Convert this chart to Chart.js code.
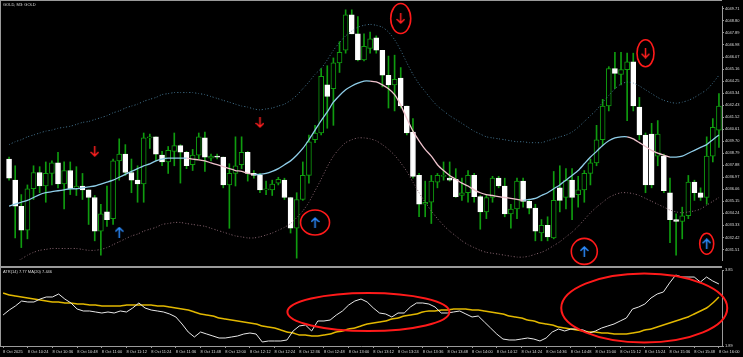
<!DOCTYPE html>
<html>
<head>
<meta charset="utf-8">
<script src="https://cdn.jsdelivr.net/npm/chart.js@4.4.1/dist/chart.umd.min.js"></script>
<style>
html,body{margin:0;padding:0;background:#000;}
#wrap{position:relative;width:743px;height:357px;background:#000;overflow:hidden;}
#main{position:absolute;left:0;top:0;width:743px;height:266px;}
#sub{position:absolute;left:0;top:266px;width:743px;height:91px;}
</style>
</head>
<body>
<div id="wrap">
<canvas id="main" width="743" height="266"></canvas>
<canvas id="sub" width="743" height="91"></canvas>
</div>
<script>
const opens=[4038.35,4036.75,4034.78,4032.96,4036.10,4037.33,4036.31,4037.26,4038.06,4036.46,
4037.48,4036.10,4036.31,4036.02,4035.44,4032.89,4034.35,4033.84,4038.21,4038.72,
4037.33,4036.75,4036.46,4039.95,4040.03,4038.64,4038.13,4038.93,4039.37,4038.86,
4037.92,4038.64,4039.95,4038.42,4038.57,4038.50,4036.39,4037.26,4037.92,4038.86,
4037.26,4037.11,4036.02,4036.02,4036.53,4036.75,4035.44,4033.11,4035.29,4037.11,
4039.81,4040.32,4043.96,4043.67,4045.63,4046.58,4049.27,4047.82,4045.85,4046.72,
4047.52,4046.58,4044.69,4043.96,4044.47,4042.36,4040.39,4037.11,4034.93,4035.08,
4036.60,4037.04,4036.90,4036.82,4035.59,4035.80,4037.11,4035.51,4034.35,4035.44,
4036.90,4036.31,4034.20,4034.57,4036.68,4035.15,4034.64,4032.75,4033.33,4032.38,
4036.17,4035.44,4036.75,4035.66,4036.02,4037.26,4038.06,4039.81,4042.36,4045.20,
4044.76,4045.12,4045.70,4042.28,4040.17,4040.24,4038.57,4038.57,4035.80,4033.77,
4033.62,4034.06,4036.60,4035.80,4035.44,4038.57,4040.54];

const highs=[4038.50,4037.84,4035.66,4036.39,4037.84,4037.77,4038.13,4038.21,4038.86,4038.13,
4038.13,4037.77,4037.26,4036.02,4035.59,4034.93,4036.31,4038.35,4039.88,4039.44,
4038.35,4037.84,4040.32,4040.24,4040.03,4038.93,4039.30,4040.32,4039.44,4038.93,
4039.08,4040.32,4040.39,4038.72,4038.72,4038.50,4037.99,4040.03,4040.03,4038.93,
4037.48,4037.26,4036.68,4036.75,4036.97,4036.90,4035.44,4035.80,4038.13,4040.17,
4040.90,4045.20,4045.41,4046.00,4047.23,4049.64,4049.64,4049.13,4047.82,4047.96,
4047.67,4046.58,4046.14,4046.21,4045.27,4042.36,4041.41,4037.26,4036.68,4037.11,
4037.26,4038.13,4038.13,4037.62,4036.90,4037.48,4037.26,4035.59,4035.66,4037.04,
4037.04,4036.90,4034.93,4036.90,4036.90,4035.29,4034.93,4033.77,4033.98,4037.41,
4037.84,4037.62,4037.62,4037.04,4037.48,4038.35,4040.90,4042.87,4045.34,4046.43,
4046.43,4046.36,4046.36,4043.01,4040.32,4041.05,4041.26,4038.72,4036.90,4034.20,
4034.71,4037.11,4036.75,4036.17,4040.03,4041.41,4043.30];

const lows=[4036.75,4032.38,4031.65,4032.31,4035.29,4035.80,4035.08,4036.39,4036.17,4034.57,
4035.66,4035.59,4035.29,4033.40,4032.16,4031.07,4033.26,4033.40,4036.75,4037.11,
4035.80,4035.08,4035.08,4039.15,4038.21,4037.84,4037.26,4037.84,4036.53,4037.62,
4037.48,4038.35,4037.41,4038.21,4038.35,4036.17,4033.11,4036.31,4037.62,4036.68,
4036.90,4035.80,4035.66,4035.59,4036.39,4035.29,4032.75,4030.85,4035.22,4036.53,
4039.59,4040.17,4040.68,4040.90,4044.90,4046.36,4047.82,4045.78,4045.78,4046.36,
4046.36,4043.81,4042.21,4041.99,4042.21,4040.17,4036.90,4033.98,4033.98,4033.47,
4036.17,4036.75,4036.68,4035.44,4035.22,4035.08,4035.08,4033.04,4033.84,4035.08,
4036.17,4033.98,4033.11,4033.84,4034.71,4034.20,4032.16,4032.16,4032.16,4032.31,
4034.35,4034.57,4033.77,4034.71,4035.08,4036.39,4037.84,4039.44,4041.99,4043.67,
4043.96,4041.26,4041.99,4039.81,4035.80,4036.17,4037.84,4035.80,4032.02,4031.07,
4032.31,4033.84,4035.22,4035.22,4034.93,4038.13,4039.23];

const closes=[4036.90,4034.78,4032.96,4036.10,4037.33,4036.31,4037.26,4038.06,4036.46,4037.48,
4036.10,4036.31,4036.02,4035.44,4032.89,4034.20,4033.77,4038.21,4038.72,4037.33,
4036.75,4036.46,4039.95,4040.03,4038.72,4038.13,4039.01,4039.37,4038.86,4037.84,
4038.64,4040.03,4038.50,4038.57,4038.50,4036.39,4037.26,4037.84,4038.86,4037.26,
4037.11,4036.02,4036.10,4036.46,4036.82,4035.44,4033.11,4035.29,4037.11,4039.66,
4040.32,4044.61,4043.08,4045.63,4046.43,4049.27,4047.82,4045.85,4046.87,4047.45,
4046.58,4044.69,4043.96,4044.39,4042.36,4040.32,4037.04,4034.93,4035.08,4036.68,
4037.11,4037.11,4036.75,4035.51,4035.80,4037.11,4035.51,4034.35,4035.44,4036.90,
4036.31,4034.20,4034.57,4036.68,4035.15,4034.64,4032.89,4033.33,4032.46,4035.22,
4035.22,4036.75,4035.44,4036.02,4037.26,4038.06,4039.81,4042.36,4045.20,4044.83,
4045.12,4045.70,4042.36,4040.17,4036.39,4036.39,4040.24,4035.95,4033.77,4033.62,
4034.06,4036.60,4035.80,4035.44,4038.57,4040.75,4042.36];

const maMid=[4034.78,4034.93,4035.08,4035.22,4035.44,4035.66,4035.80,4035.88,4035.95,4036.02,
4036.10,4036.10,4036.17,4036.24,4036.31,4036.46,4036.60,4036.75,4036.97,4037.19,
4037.41,4037.62,4037.84,4037.99,4038.21,4038.35,4038.42,4038.42,4038.42,4038.42,
4038.35,4038.28,4038.21,4038.06,4037.92,4037.77,4037.62,4037.48,4037.41,4037.26,
4037.19,4037.19,4037.26,4037.41,4037.62,4037.92,4038.21,4038.64,4039.15,4039.81,
4040.54,4041.26,4041.92,4042.65,4043.16,4043.59,4043.88,4044.10,4044.25,4044.25,
4044.18,4043.96,4043.67,4043.23,4042.43,4041.41,4040.46,4039.73,4039.08,4038.57,
4037.92,4037.48,4037.11,4036.82,4036.53,4036.31,4036.02,4035.80,4035.66,4035.59,
4035.51,4035.44,4035.37,4035.29,4035.22,4035.29,4035.37,4035.59,4035.80,4036.10,
4036.39,4036.75,4037.11,4037.48,4037.99,4038.50,4038.93,4039.37,4039.73,4039.95,
4040.03,4040.03,4039.88,4039.59,4039.30,4039.01,4038.79,4038.64,4038.50,4038.50,
4038.57,4038.79,4039.01,4039.23,4039.44,4039.81,4040.17];

const bandUp=[4039.44,4039.66,4039.81,4040.03,4040.17,4040.32,4040.46,4040.54,4040.68,4040.75,
4040.83,4040.97,4041.12,4041.19,4041.34,4041.48,4041.63,4041.85,4041.99,4042.21,
4042.36,4042.50,4042.72,4042.87,4043.01,4043.23,4043.30,4043.38,4043.38,4043.38,
4043.38,4043.30,4043.23,4043.08,4042.94,4042.79,4042.65,4042.50,4042.36,4042.28,
4042.14,4042.07,4042.14,4042.21,4042.36,4042.50,4042.79,4043.16,4043.67,4044.18,
4044.76,4045.20,4045.85,4046.58,4047.16,4047.67,4048.03,4048.33,4048.47,4048.54,
4048.47,4048.33,4047.96,4047.38,4046.58,4045.63,4044.76,4044.03,4043.45,4042.87,
4042.36,4041.99,4041.63,4041.34,4041.05,4040.75,4040.46,4040.24,4040.03,4039.95,
4039.88,4039.81,4039.73,4039.66,4039.66,4039.59,4039.59,4039.59,4039.73,4039.88,
4040.03,4040.17,4040.39,4040.75,4041.19,4041.63,4042.07,4042.65,4043.16,4043.67,
4044.03,4044.18,4044.10,4043.88,4043.59,4043.30,4043.01,4042.79,4042.65,4042.57,
4042.65,4042.79,4043.01,4043.30,4043.59,4044.10,4044.69];

const bandLow=[4030.20,4030.49,4030.78,4031.07,4031.29,4031.44,4031.51,4031.58,4031.58,4031.58,
4031.58,4031.58,4031.51,4031.44,4031.44,4031.51,4031.65,4031.87,4032.09,4032.31,
4032.53,4032.67,4032.89,4033.04,4033.18,4033.40,4033.47,4033.55,4033.55,4033.47,
4033.40,4033.33,4033.26,4033.11,4032.96,4032.82,4032.67,4032.53,4032.46,4032.38,
4032.38,4032.46,4032.60,4032.75,4032.96,4033.18,4033.47,4033.91,4034.42,4035.08,
4035.95,4036.82,4037.77,4038.57,4039.15,4039.59,4039.81,4039.95,4039.95,4039.88,
4039.73,4039.44,4039.08,4038.64,4038.06,4037.41,4036.60,4035.80,4035.08,4034.42,
4033.84,4033.33,4032.89,4032.53,4032.16,4031.87,4031.65,4031.44,4031.29,4031.22,
4031.15,4031.07,4031.00,4030.93,4030.93,4031.00,4031.15,4031.29,4031.51,4031.80,
4032.09,4032.46,4032.82,4033.26,4033.77,4034.28,4034.71,4035.08,4035.44,4035.66,
4035.80,4035.80,4035.73,4035.59,4035.37,4035.15,4034.93,4034.71,4034.49,4034.35,
4034.28,4034.35,4034.42,4034.57,4034.86,4035.15,4035.44];

const atr=[2.689,2.818,2.922,3.050,3.025,3.025,3.102,3.154,3.154,3.231,
3.102,2.999,2.844,2.793,2.793,2.767,2.741,2.767,2.741,2.793,
2.767,2.870,2.999,2.870,2.818,2.793,2.767,2.715,2.638,2.457,
2.251,2.122,2.251,2.199,2.148,2.096,2.096,2.122,2.148,2.199,
2.225,2.199,1.993,2.019,2.019,2.019,2.045,2.277,2.406,2.432,
2.277,2.535,2.535,2.560,2.689,2.793,2.947,3.050,3.102,3.025,
2.870,2.741,2.715,2.638,2.741,2.741,2.896,2.999,2.999,2.973,
2.896,2.741,2.741,2.767,2.793,2.715,2.638,2.664,2.509,2.354,
2.199,2.070,2.045,2.045,2.070,2.096,2.070,2.019,2.096,2.251,
2.328,2.277,2.328,2.328,2.303,2.225,2.277,2.354,2.406,2.457,
2.535,2.612,2.844,2.896,2.973,3.128,3.231,3.283,3.515,3.721,
3.669,3.669,3.669,3.540,3.669,3.566,3.489];

const atrMa=[3.257,3.205,3.179,3.154,3.128,3.102,3.076,3.050,3.025,3.025,
2.999,2.999,2.973,2.973,2.947,2.947,2.922,2.922,2.922,2.922,
2.947,2.947,2.947,2.947,2.947,2.922,2.922,2.896,2.870,2.844,
2.818,2.767,2.715,2.689,2.664,2.612,2.586,2.560,2.535,2.509,
2.483,2.457,2.406,2.380,2.354,2.303,2.251,2.225,2.174,2.174,
2.148,2.148,2.174,2.199,2.251,2.277,2.328,2.354,2.406,2.457,
2.483,2.509,2.535,2.586,2.612,2.664,2.689,2.715,2.767,2.793,
2.793,2.818,2.818,2.844,2.844,2.844,2.818,2.818,2.793,2.767,
2.741,2.715,2.664,2.638,2.612,2.560,2.535,2.483,2.457,2.432,
2.380,2.354,2.328,2.303,2.277,2.251,2.251,2.225,2.225,2.199,
2.199,2.199,2.225,2.251,2.303,2.328,2.380,2.432,2.483,2.535,
2.586,2.638,2.715,2.793,2.870,2.999,3.154];

const downIdx=[14,41,64,104];
const downVal=[4038.93,4041.12,4048.98,4046.36];
const upIdx=[18,50,94,114];
const upVal=[4032.82,4033.55,4031.36,4031.94];

const priceTicks=[4049.71,4048.80,4047.89,4046.98,4046.07,4045.16,4044.25,4043.34,4042.43,4041.52,
4040.61,4039.70,4038.79,4037.88,4036.97,4036.06,4035.15,4034.24,4033.33,4032.42,4031.51];
const subTicks=[3.85,1.89];

const timeLabels=["8 Oct 2025","8 Oct 10:24","8 Oct 10:36","8 Oct 10:48","8 Oct 11:00","8 Oct 11:12",
"8 Oct 11:24","8 Oct 11:36","8 Oct 11:48","8 Oct 12:00","8 Oct 12:12","8 Oct 12:24","8 Oct 12:36",
"8 Oct 12:48","8 Oct 13:00","8 Oct 13:12","8 Oct 13:24","8 Oct 13:36","8 Oct 13:48","8 Oct 14:00",
"8 Oct 14:12","8 Oct 14:24","8 Oct 14:36","8 Oct 14:48","8 Oct 15:00","8 Oct 15:12","8 Oct 15:24",
"8 Oct 15:36","8 Oct 15:48","8 Oct 16:00"];

// circled signals and the two hand drawn ellipses in the ATR window
const circledDown=[{i:64,rx:10,ry:15},{i:104,rx:8.5,ry:13.5}];
const circledUp=[{i:50,rx:14.5,ry:12.5},{i:94,rx:13,ry:13},{i:114,rx:7,ry:10.5}];
const subEllipses=[{i:59.2,v:2.767,rx:81,ry:19},{i:103.9,v:2.870,rx:83,ry:34.5}];

const GREEN="#0f9c0f";
const BLUE_MA="#8fcde8";
const PINK_MA="#efc2cc";
const AXIS="#9a9a9a";
const TXT="#dcdcdc";
const FONT="'Liberation Sans', Arial, sans-serif";

const N=opens.length;
const candleTimes=[];
for(let i=0;i<N;i++){
const m=10*60+12+3*i;
candleTimes.push(String(Math.floor(m/60)).padStart(2,"0")+":"+String(m%60).padStart(2,"0"));
}

function makeArrow(color,up){
const c=document.createElement("canvas");
c.width=9;c.height=11;
const g=c.getContext("2d");
g.strokeStyle=color;g.lineWidth=1.5;g.lineCap="round";
g.beginPath();
if(up){
g.moveTo(4.5,10.5);g.lineTo(4.5,1);
g.moveTo(1,4.5);g.lineTo(4.5,1);g.lineTo(8,4.5);
}else{
g.moveTo(4.5,0.5);g.lineTo(4.5,10);
g.moveTo(1,6.5);g.lineTo(4.5,10);g.lineTo(8,6.5);
}
g.stroke();
return c;
}

function sparse(idx,vals){
const out=new Array(N).fill(null);
idx.forEach((k,j)=>{out[k]=vals[j];});
return out;
}

const framePlugin={
id:"frame",
afterDraw(chart){
const {ctx,chartArea}=chart;
ctx.save();
ctx.fillStyle=AXIS;
if(chart.canvas.id==="main"){
ctx.fillRect(0,0,chartArea.right,1);
ctx.fillRect(0,0,1,chart.height);
ctx.font="4px "+FONT;
ctx.fillStyle=TXT;
ctx.textBaseline="top";
ctx.fillText("GOLD, M3: GOLD",3,2.5);
}else{
ctx.fillRect(0,0,chartArea.right,2);
ctx.fillRect(0,0,1,chartArea.bottom);
ctx.font="4px "+FONT;
ctx.fillStyle=TXT;
ctx.textBaseline="top";
ctx.fillText("ATR(14) 7.77 MA(20) 7.446",3,4);
}
ctx.restore();
}
};

const circlePlugin={
id:"circles",
afterDatasetsDraw(chart){
const {ctx,scales}=chart;
const x=scales.x;
const y=scales.y;
ctx.save();
ctx.strokeStyle="#ff1a1a";
if(chart.canvas.id==="main"){
ctx.lineWidth=1.6;
circledDown.forEach(c=>{
const v=downVal[downIdx.indexOf(c.i)];
ctx.beginPath();
ctx.ellipse(x.getPixelForValue(c.i),y.getPixelForValue(v),c.rx,c.ry,0,0,Math.PI*2);
ctx.stroke();
});
circledUp.forEach(c=>{
const v=upVal[upIdx.indexOf(c.i)];
ctx.beginPath();
ctx.ellipse(x.getPixelForValue(c.i),y.getPixelForValue(v),c.rx,c.ry,0,0,Math.PI*2);
ctx.stroke();
});
}else{
ctx.lineWidth=2;
subEllipses.forEach(e=>{
ctx.beginPath();
ctx.ellipse(x.getPixelForValue(e.i),y.getPixelForValue(e.v),e.rx,e.ry,0,0,Math.PI*2);
ctx.stroke();
});
}
ctx.restore();
}
};

function fixY(width){
return function(scale){
scale.width=width;
scale.paddingTop=0;
scale.paddingBottom=0;
};
}

new Chart(document.getElementById("main"),{
type:"bar",
data:{
labels:candleTimes,
datasets:[
{
type:"bar",
data:lows.map((l,i)=>[l,highs[i]]),
backgroundColor:GREEN,
barThickness:1,
grouped:false,
order:5
},
{
type:"bar",
data:opens.map((o,i)=>[o,closes[i]]),
backgroundColor:opens.map((o,i)=>closes[i]>o?"#000000":"#ffffff"),
borderColor:opens.map((o,i)=>closes[i]>o?GREEN:"#ffffff"),
borderWidth:1,
borderSkipped:false,
barThickness:5,
minBarLength:1,
grouped:false,
order:4
},
{
type:"line",
data:bandUp,
borderColor:"#42718c",
borderWidth:1,
borderDash:[1,2],
pointRadius:0,
tension:0.2,
order:3
},
{
type:"line",
data:bandLow,
borderColor:"#84626d",
borderWidth:1,
borderDash:[1,2],
pointRadius:0,
tension:0.2,
order:3
},
{
type:"line",
data:maMid,
borderWidth:1.3,
borderColor:BLUE_MA,
pointRadius:0,
tension:0.2,
segment:{
borderColor:c=>c.p1.parsed.y<c.p0.parsed.y?PINK_MA:BLUE_MA
},
order:2
},
{
type:"line",
data:sparse(downIdx,downVal),
showLine:false,
pointStyle:makeArrow("#ff2020",false),
pointRadius:5,
order:1
},
{
type:"line",
data:sparse(upIdx,upVal),
showLine:false,
pointStyle:makeArrow("#2c8cff",true),
pointRadius:5,
order:1
}
]
},
options:{
responsive:false,
animation:false,
devicePixelRatio:1,
layout:{padding:{top:1,bottom:1,left:0,right:0}},
plugins:{legend:{display:false},tooltip:{enabled:false}},
scales:{
x:{
type:"category",
offset:true,
display:false
},
y:{
position:"right",
min:4030.71,
max:4049.93,
afterFit:fixY(21),
afterBuildTicks:s=>{s.ticks=priceTicks.map(v=>({value:v}));},
ticks:{
font:{size:4,family:FONT},
color:TXT,
padding:1,
callback:v=>Number(v).toFixed(2)
},
grid:{drawOnChartArea:false,tickLength:2,color:AXIS},
border:{color:AXIS,width:1}
}
}
},
plugins:[framePlugin,circlePlugin]
});

new Chart(document.getElementById("sub"),{
type:"line",
data:{
labels:candleTimes,
datasets:[
{
data:atr,
borderColor:"#e8e8e8",
borderWidth:1,
pointRadius:0,
tension:0,
order:1
},
{
data:atrMa,
borderColor:"#e2b800",
borderWidth:1.5,
pointRadius:0,
tension:0.2,
order:2
}
]
},
options:{
responsive:false,
animation:false,
devicePixelRatio:1,
layout:{padding:{top:4,bottom:0,left:0,right:0}},
plugins:{legend:{display:false},tooltip:{enabled:false}},
scales:{
x:{
type:"category",
offset:true,
afterFit:s=>{s.height=11;s.paddingLeft=0;s.paddingRight=0;},
ticks:{
autoSkip:false,
maxRotation:0,
minRotation:0,
align:"start",
padding:1,
font:{size:4,family:FONT},
color:TXT,
callback:(v,i)=>i%4===0?timeLabels[i/4]:""
},
grid:{
drawOnChartArea:false,
tickLength:2,
color:c=>c.index%4===0?AXIS:"rgba(0,0,0,0)"
},
border:{color:AXIS,width:1}
},
y:{
position:"right",
min:1.89,
max:3.85,
afterFit:fixY(21),
afterBuildTicks:s=>{s.ticks=subTicks.map(v=>({value:v}));},
ticks:{
font:{size:4,family:FONT},
color:TXT,
padding:1,
callback:v=>Number(v).toFixed(2)
},
grid:{drawOnChartArea:false,tickLength:2,color:AXIS},
border:{color:AXIS,width:1}
}
}
},
plugins:[framePlugin,circlePlugin]
});
</script>
</body>
</html>
